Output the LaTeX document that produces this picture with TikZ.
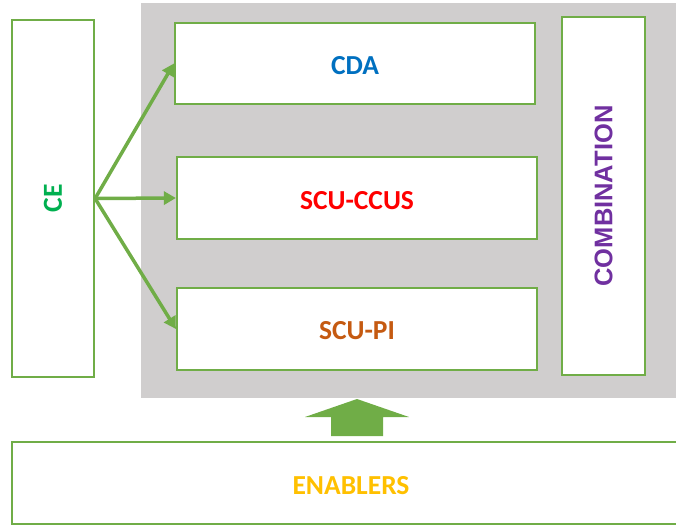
\documentclass[tikz,border=0pt]{standalone}
\usepackage{fontspec}
\setmainfont{Carlito}
\newfontfamily\arialfont{Liberation Sans}
\usetikzlibrary{arrows.meta}
\definecolor{boxgreen}{HTML}{70AD47}
\definecolor{bggray}{HTML}{D0CECE}
\definecolor{cdablue}{HTML}{0070C0}
\definecolor{cered}{HTML}{FF0000}
\definecolor{piorange}{HTML}{C55A11}
\definecolor{cegreen}{HTML}{00B050}
\definecolor{combpurple}{HTML}{7030A0}
\definecolor{engold}{HTML}{FFC000}
\tikzset{
  greenbox/.style={draw=boxgreen, line width=2.2pt, fill=white, inner sep=0pt, font=\bfseries\fontsize{27.5}{30}\selectfont},
  flowarrow/.style={draw=boxgreen, line width=3.5pt, -{Triangle[length=12pt,width=13pt]}},
}
\begin{document}
\begin{tikzpicture}[x=1pt,y=-1pt]
\useasboundingbox (0,0) rectangle (676,527);
\fill[bggray] (141,3) rectangle (680,398);
\node[greenbox, minimum width=82pt, minimum height=357pt, text=cegreen] (ce) at (53,198.5) {\rotatebox{90}{CE}};
\node[greenbox, minimum width=360pt, minimum height=81pt, text=cdablue, text height=22.5pt, text depth=0pt] (cda) at (355,63.5) {CDA};
\node[greenbox, minimum width=360pt, minimum height=82pt, text=cered, text height=22pt, text depth=0pt] (ccus) at (357,198) {SCU-CCUS};
\node[greenbox, minimum width=360pt, minimum height=82pt, text=piorange, text height=20pt, text depth=0pt] (pi) at (357,329) {SCU-PI};
\node[greenbox, minimum width=83pt, minimum height=358pt, text=combpurple, font=\arialfont\bfseries\fontsize{25.5}{28}\selectfont] (comb) at (603.5,196) {\rotatebox{90}{COMBINATION}};
\node[greenbox, minimum width=678pt, minimum height=82pt, text=engold, text height=23pt, text depth=0pt] (en) at (351,483) {ENABLERS};
\draw[flowarrow] (ce.east) -- (cda.west);
\draw[flowarrow] (ce.east) -- (ccus.west);
\draw[flowarrow] (ce.east) -- (pi.west);
\coordinate (tip) at (357,399);
\fill[boxgreen] (tip) -- (409,417) -- (383,417) -- (383,436) -- (331,436) -- (331,417) -- (305,417) -- cycle;
\end{tikzpicture}
\end{document}
